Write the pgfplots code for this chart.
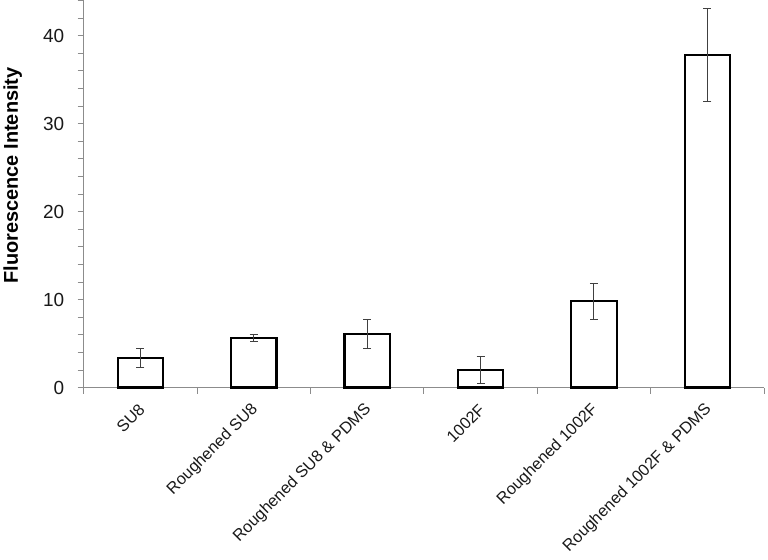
\documentclass[border=0pt]{standalone}
\usepackage{pgfplots}
\pgfplotsset{compat=1.18}
\usepackage{fontspec}
\setmainfont{Liberation Sans}
\usetikzlibrary{calc}
\begin{document}
\begin{tikzpicture}
\begin{axis}[
  scale only axis, width=682pt, height=388pt,
  xmin=-0.5, xmax=5.5, ymin=0, ymax=44,
  axis x line=bottom, axis y line=left,
  axis line style={-, draw=black!45, line width=1pt},
  tick align=outside,
  major tick length=6pt, minor tick length=6pt,
  tick style={draw=black!45, line width=0.8pt},
  ytick={0,10,20,30,40},
  minor ytick={2,4,6,8,12,14,16,18,22,24,26,28,32,34,36,38,42,44},
  xtick={0,1,2,3,4,5},
  major x tick style={draw=none},
  minor xtick={-0.5,0.5,1.5,2.5,3.5,4.5,5.5},
  xticklabels={SU8, Roughened SU8, Roughened SU8 \& PDMS, 1002F, Roughened 1002F, Roughened 1002F \& PDMS},
  xticklabel style={yshift=-11pt, xshift=4pt, rotate=45, anchor=east, font=\fontsize{16.3}{18}\selectfont, text=black!90},
  yticklabel style={xshift=-10pt, font=\fontsize{19}{21}\selectfont, text=black!90},
  /pgf/number format/assume math mode=true,
  ylabel={\textbf{Fluorescence Intensity}},
  ylabel style={at={([xshift=-66pt]axis description cs:0,0.548)}, anchor=base, font=\fontsize{20}{22}\selectfont},
  clip=false,
]
\addplot[ybar, bar width=0.4, fill=white, draw=black, line width=2.2pt,
  error bars/.cd, y dir=both, y explicit,
  error bar style={line width=0.9pt, draw=black!75},
  error mark options={rotate=90, mark size=4pt, line width=0.9pt, draw=black!75}]
coordinates {
  (0,3.35) +- (0,1.08)
  (1,5.65) +- (0,0.38)
  (2,6.05) +- (0,1.64)
  (3,2.0) +- (0,1.57)
  (4,9.8) +- (0,2.08)
  (5,37.8) +- (0,5.3)
};
\end{axis}
\path[use as bounding box] ($(current axis.south west)+(-82pt,-170pt)$) rectangle ($(current axis.north east)+(4pt,0pt)$);
\end{tikzpicture}
\end{document}
